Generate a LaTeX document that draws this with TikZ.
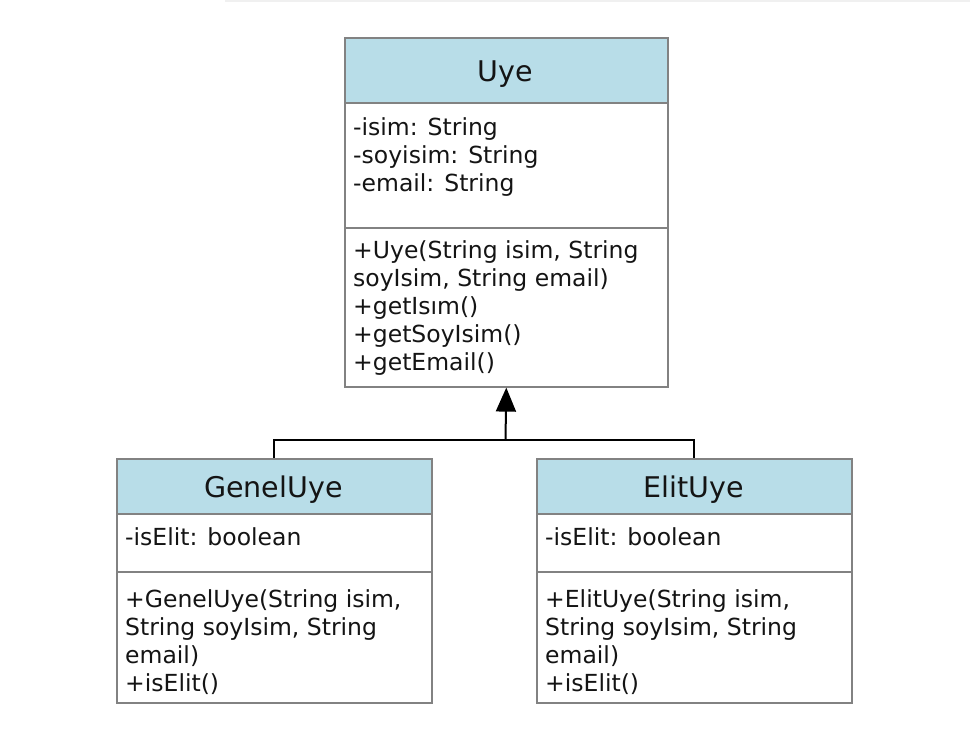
\documentclass[tikz,border=0pt]{standalone}
\usepackage{fontspec}
\setmainfont{DejaVu Sans}
\usetikzlibrary{arrows.meta}
\definecolor{hdr}{RGB}{184,221,232}
\definecolor{brd}{RGB}{130,130,130}
\definecolor{txt}{RGB}{20,20,20}
\tikzset{
  comp/.style={draw=brd, line width=1.6pt, anchor=north west, inner sep=0pt},
  hdrbox/.style={comp, fill=hdr},
  bodybox/.style={comp, fill=white},
  classtitle/.style={font=\fontsize{28.5}{32}\selectfont, text=txt, inner sep=0pt, anchor=base},
  member/.style={font=\fontsize{23.5}{28}\selectfont, text=txt, align=left, anchor=north west, inner sep=0pt},
  link/.style={line width=2pt, black},
}
\begin{document}
\begin{tikzpicture}[x=1pt,y=-1pt]
\useasboundingbox (0,0) rectangle (970,732);
\draw[black!6, line width=2pt] (225,1) -- (970,1);
% Uye
\node[hdrbox, minimum width=323pt, minimum height=65pt] (uyeH) at (344,37) {};
\node[bodybox, minimum width=323pt, minimum height=125pt] (uyeA) at (344,102) {};
\node[bodybox, minimum width=323pt, minimum height=159pt] (uyeM) at (344,227) {};
\node[classtitle] (uyeT) at (505.5,81) {Uye};
\node[member] (uyeAT) at (353,117) {-isim: String\\-soyisim: String\\-email: String};
\node[member] (uyeMT) at (353,240) {+Uye(String isim, String\\soyIsim, String email)\\+getIsım()\\+getSoyIsim()\\+getEmail()};
% GenelUye
\node[hdrbox, minimum width=315pt, minimum height=55pt] (genH) at (116,458) {};
\node[bodybox, minimum width=315pt, minimum height=58pt] (genA) at (116,513) {};
\node[bodybox, minimum width=315pt, minimum height=131pt] (genM) at (116,571) {};
\node[classtitle] (genT) at (273.5,497) {GenelUye};
\node[member] (genAT) at (125,527) {-isElit: boolean};
\node[member] (genMT) at (125,589) {+GenelUye(String isim,\\String soyIsim, String\\email)\\+isElit()};
% ElitUye
\node[hdrbox, minimum width=315pt, minimum height=55pt] (eliH) at (536,458) {};
\node[bodybox, minimum width=315pt, minimum height=58pt] (eliA) at (536,513) {};
\node[bodybox, minimum width=315pt, minimum height=131pt] (eliM) at (536,571) {};
\node[classtitle] (eliT) at (693.5,497) {ElitUye};
\node[member] (eliAT) at (545,527) {-isElit: boolean};
\node[member] (eliMT) at (545,589) {+ElitUye(String isim,\\String soyIsim, String\\email)\\+isElit()};
% inheritance
\coordinate (junc) at (505.5,440);
\draw[link] (genH.north) |- (junc) -| (eliH.north);
\draw[link, -{Triangle[width=20pt,length=24pt]}] (junc) -- (uyeM.south);
\end{tikzpicture}
\end{document}
